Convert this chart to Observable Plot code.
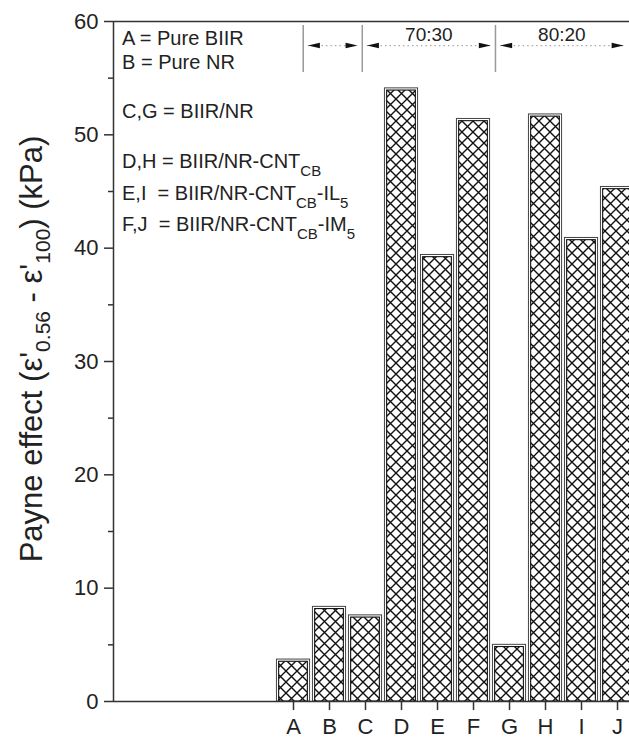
<!DOCTYPE html>
<html><head><meta charset="utf-8">
<script src="https://cdn.jsdelivr.net/npm/d3@7"></script>
<script src="https://cdn.jsdelivr.net/npm/@observablehq/plot@0.6"></script>
<style>
html,body{margin:0;padding:0;background:#fff;overflow:hidden;}
#chart svg{overflow:hidden;}
</style></head><body>
<svg width="0" height="0" style="position:absolute">
<defs><pattern id="xhatch" patternUnits="userSpaceOnUse" width="11" height="11">
<rect width="11" height="11" fill="#fff"/>
<path d="M-1,-1L12,12M12,-1L-1,12" stroke="#111" stroke-width="1.4"/>
</pattern></defs></svg>
<div id="chart"></div>
<script>
// ---- data ----
const samples = ["A","B","C","D","E","F","G","H","I","J"];
const positions = [5,6,7,8,9,10,11,12,13,14];
const payne = [3.7, 8.35, 7.6, 54.1, 39.4, 51.4, 5.0, 51.8, 40.9, 45.4];
const yMajorTicks = [0,10,20,30,40,50,60];
const yMinorTicks = [5,15,25,35,45,55];
const groupLabels = ["", "70:30", "80:20"];
const groupStarts = [5.27, 6.91, 10.61];
const groupEnds = [6.91, 10.61, 14.3];
const groupBoundaries = [5.27, 6.91, 10.61];
const legendLines = [
  [["A = Pure BIIR"]],
  [["B = Pure NR"]],
  [["C,G = BIIR/NR"]],
  [["D,H = BIIR/NR-CNT"],["CB","sub"]],
  [["E,I  = BIIR/NR-CNT"],["CB","sub"],["-IL"],["5","sub"]],
  [["F,J  = BIIR/NR-CNT"],["CB","sub"],["-IM"],["5","sub"]]
];
const legendBaselines = [45, 69, 118, 168, 200, 231];

const data = samples.map((s,i)=>({sample:s,pos:positions[i],value:payne[i]}));
const groups = groupLabels.map((l,i)=>({label:l,from:groupStarts[i],to:groupEnds[i],mid:(groupStarts[i]+groupEnds[i])/2}));

const leftHead = {draw(ctx){ctx.moveTo(0,0);ctx.lineTo(12,-2.7);ctx.lineTo(12,2.7);ctx.closePath();}};
const rightHead = {draw(ctx){ctx.moveTo(0,0);ctx.lineTo(-12,-2.7);ctx.lineTo(-12,2.7);ctx.closePath();}};
const half = 0.46, inset = 0.13, arrowY = 57.88;

const plot = Plot.plot({
  width:629, height:742,
  marginLeft:113, marginRight:0, marginTop:21, marginBottom:41,
  x:{domain:[0,14.333]},
  y:{domain:[0,60]},
  style:{fontFamily:"'Liberation Sans', Arial, sans-serif", background:"#fff", color:"#222"},
  marks:[
    Plot.rectY(data,{x1:d=>d.pos-half, x2:d=>d.pos+half, y1:0, y2:"value", fill:"#fff", stroke:"#444", strokeWidth:1}),
    Plot.rectY(data,{x1:d=>d.pos-half, x2:d=>d.pos+half, y1:0, y2:"value", fill:"url(#xhatch)", stroke:"#111", strokeWidth:1.1, insetLeft:2.2, insetRight:2.2, insetTop:2.2}),
    Plot.ruleY([0], {stroke:"#333", strokeWidth:1.5}),
    Plot.ruleY([60], {stroke:"#333", strokeWidth:1.5}),
    Plot.ruleX([0], {stroke:"#333", strokeWidth:1.5}),
    Plot.axisY({ticks:yMajorTicks, tickSize:9, tickPadding:6, fontSize:22, label:null, stroke:"#333", strokeWidth:1.5, fill:"#222"}),
    Plot.axisY({ticks:yMinorTicks, tickSize:5, tickFormat:()=>"", label:null, stroke:"#333", strokeWidth:1.5}),
    Plot.axisX({ticks:positions, tickFormat:d=>samples[positions.indexOf(d)], tickSize:9, tickPadding:8, fontSize:22, label:null, stroke:"#333", strokeWidth:1.5, fill:"#222"}),
    Plot.ruleX(groupBoundaries, {y1:55.5, y2:59.65, stroke:"#999", strokeWidth:1.5}),
    Plot.link(groups,{x1:d=>d.from+inset, x2:d=>d.to-inset, y1:arrowY, y2:arrowY, stroke:"#aaa", strokeWidth:1.2, strokeDasharray:"1.5,3"}),
    Plot.dot(groups,{x:d=>d.from+inset, y:arrowY, r:3, symbol:leftHead, fill:"#111", stroke:"none"}),
    Plot.dot(groups,{x:d=>d.to-inset, y:arrowY, r:3, symbol:rightHead, fill:"#111", stroke:"none"}),
    Plot.text(groups,{x:"mid", y:58.8, text:"label", fontSize:19, fill:"#222"})
  ]
});
document.getElementById("chart").appendChild(plot);

const svg = d3.select(plot);
const title = svg.append("text")
  .attr("transform","translate(42,349) rotate(-90)")
  .attr("text-anchor","middle").attr("font-size",31).attr("fill","#222");
title.append("tspan").text("Payne effect (\u03B5'");
title.append("tspan").attr("font-size",21).attr("dy",8).text("0.56");
title.append("tspan").attr("dy",-8).text(" - \u03B5'");
title.append("tspan").attr("font-size",21).attr("dy",8).text("100");
title.append("tspan").attr("dy",-8).text(") (kPa)");

legendLines.forEach((segs,i)=>{
  const t = svg.append("text").attr("x",122).attr("y",legendBaselines[i])
    .attr("text-anchor","start")
    .attr("font-size",20).attr("fill","#222").style("white-space","pre");
  let shifted = false;
  segs.forEach(([s,kind])=>{
    const sp = t.append("tspan").text(s);
    if (kind==="sub" && !shifted){ sp.attr("font-size",15).attr("dy",8); shifted = true; }
    else if (kind==="sub"){ sp.attr("font-size",15); }
    else if (shifted){ sp.attr("dy",-8); shifted = false; }
  });
});
</script>
</body></html>
